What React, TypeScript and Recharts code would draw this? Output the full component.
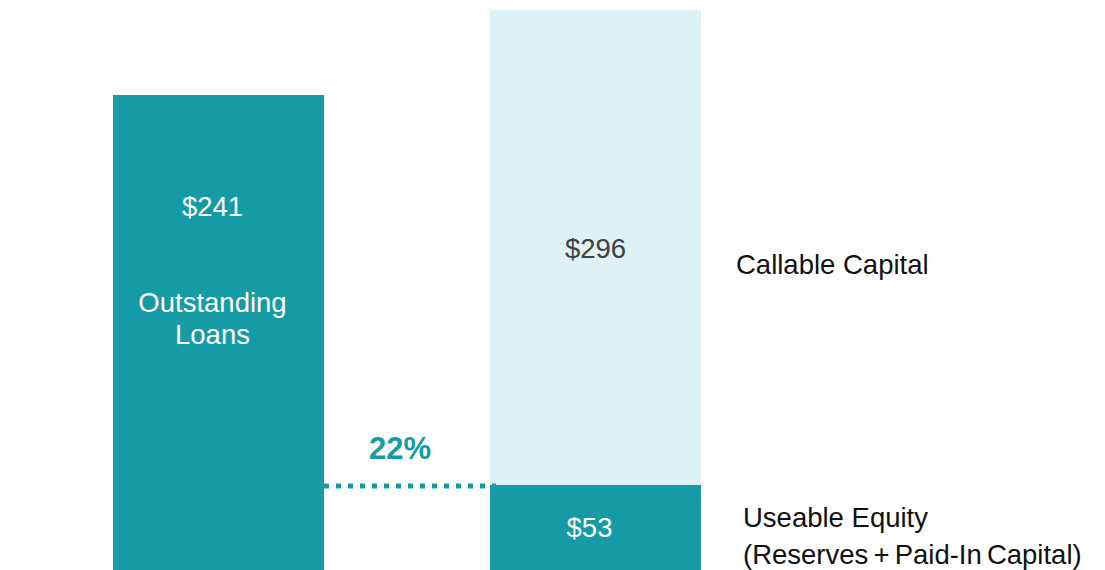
import React from "react";
import { BarChart, Bar, XAxis, YAxis, LabelList } from "recharts";

// ---- data ----
const categories = ["Outstanding Loans", "Capital Base"];
// drawn bar heights (in the chart's value units)
const loansBar = [296, 0];
const useableEquity = [0, 53];
const callableCapital = [0, 296];
// text labels shown on the chart
const loansValueLabel = "$241";
const loansNameLines = ["Outstanding", "Loans"];
const equityValueLabel = "$53";
const callableValueLabel = "$296";
const callableName = "Callable Capital";
const equityNameLines = ["Useable Equity", "(Reserves + Paid-In Capital)"];
const ratioLabel = "22%";

const data = categories.map((name, i) => ({
  name,
  loans: loansBar[i],
  equity: useableEquity[i],
  callable: callableCapital[i],
}));

const TEAL = "#149BA5";
const LIGHT = "#DEF1F4";
const FONT = "'Liberation Sans', Arial, sans-serif";
const FS = 27.5;

const visible = (props: any) => Number(props.height) > 1;

const LoansLabel = (props: any) => {
  if (!visible(props)) return null;
  const { x, y, width } = props;
  const cx = Number(x) + Number(width) / 2 - 6;
  const top = Number(y);
  return (
    <g fontFamily={FONT} fontSize={FS} fill="#ffffff" textAnchor="middle">
      <text x={cx} y={top + 121}>{loansValueLabel}</text>
      <text x={cx} y={top + 217}>{loansNameLines[0]}</text>
      <text x={cx} y={top + 249}>{loansNameLines[1]}</text>
    </g>
  );
};

const CallableLabel = (props: any) => {
  if (!visible(props)) return null;
  const { x, y, width } = props;
  const left = Number(x);
  const w = Number(width);
  const top = Number(y);
  return (
    <g fontFamily={FONT} fontSize={FS}>
      <text x={left + w / 2} y={top + 248} fill="#404040" textAnchor="middle">
        {callableValueLabel}
      </text>
      <text x={left + w + 35} y={top + 264} fill="#111111">
        {callableName}
      </text>
    </g>
  );
};

const EquityLabel = (props: any) => {
  if (!visible(props)) return null;
  const { x, y, width } = props;
  const left = Number(x);
  const w = Number(width);
  const top = Number(y);
  return (
    <g fontFamily={FONT} fontSize={FS}>
      <line
        x1={left - 166}
        x2={left + 6}
        y1={top + 1}
        y2={top + 1}
        stroke={TEAL}
        strokeWidth={5}
        strokeDasharray="5 7"
      />
      <text
        x={left - 90}
        y={top - 26}
        fill={TEAL}
        fontWeight="bold"
        fontSize={31}
        textAnchor="middle"
      >
        {ratioLabel}
      </text>
      <text x={left + w / 2 - 6} y={top + 52} fill="#ffffff" textAnchor="middle">
        {equityValueLabel}
      </text>
      <text x={left + w + 42} y={top + 42} fill="#111111">
        {equityNameLines[0]}
      </text>
      <text x={left + w + 42} y={top + 79} fill="#111111" wordSpacing={-2.5}>
        {equityNameLines[1]}
      </text>
    </g>
  );
};

export default function App() {
  return (
    <div style={{ position: "absolute", left: 0, top: 0, width: 1105, height: 570, background: "#fff" }}>
      <BarChart
        width={1105}
        height={570}
        data={data}
        margin={{ top: 10, right: 321, bottom: 0, left: 30 }}
        barSize={211}
      >
        <XAxis dataKey="name" hide />
        <YAxis hide domain={[0, 349]} />
        <Bar dataKey="loans" stackId="s" fill={TEAL} isAnimationActive={false}>
          <LabelList content={LoansLabel} />
        </Bar>
        <Bar dataKey="equity" stackId="s" fill={TEAL} isAnimationActive={false}>
          <LabelList content={EquityLabel} />
        </Bar>
        <Bar dataKey="callable" stackId="s" fill={LIGHT} isAnimationActive={false}>
          <LabelList content={CallableLabel} />
        </Bar>
      </BarChart>
    </div>
  );
}
